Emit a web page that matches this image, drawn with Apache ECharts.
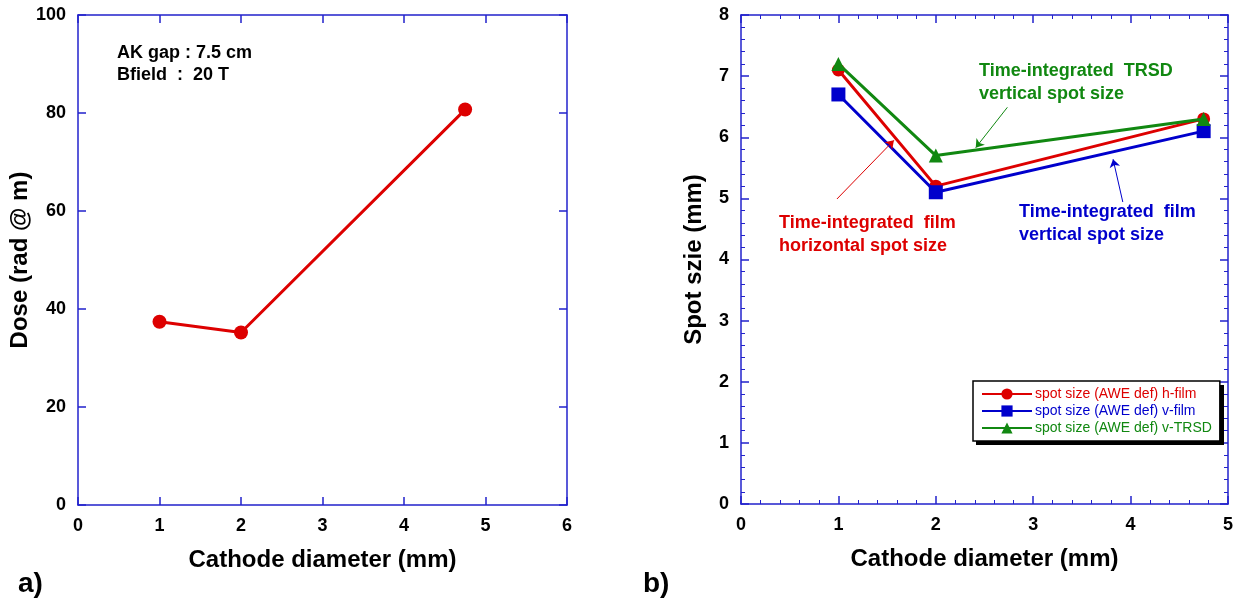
<!DOCTYPE html>
<html>
<head>
<meta charset="utf-8">
<script src="https://cdn.jsdelivr.net/npm/echarts@6/dist/echarts.min.js"></script>
<style>
html, body { margin: 0; padding: 0; background: #fff; }
#chart { width: 1252px; height: 600px; }
</style>
</head>
<body>
<div id="chart"></div>
<script>
// data
var doseX = [1, 2, 4.75];
var doseY = [37.4, 35.2, 80.7];

var spotX = [1, 2, 4.75];
var hFilm = [7.1, 5.2, 6.3];
var vFilm = [6.7, 5.1, 6.1];
var vTRSD = [7.2, 5.7, 6.3];

var seriesNames = ['spot size (AWE def) h-film', 'spot size (AWE def) v-film', 'spot size (AWE def) v-TRSD'];

var FONT = '"Liberation Sans", Arial, sans-serif';
var AXIS_BLUE = '#2222cc';
var RED = '#dd0000', BLUE = '#0000cc', GREEN = '#118811';

function pairs(xs, ys) {
    var out = [];
    for (var i = 0; i < xs.length; i++) {
        out.push([xs[i], ys[i]]);
    }
    return out;
}

function arrow(from, to) {
    return [{ coord: from }, { coord: to }];
}

// builds one axis; side axes (top/right) only carry ticks
function axis(grid, pos, min, max, interval, minor, name, gap) {
    var main = (pos === 'bottom' || pos === 'left');
    return {
        type: 'value',
        gridIndex: grid,
        position: pos,
        min: min,
        max: max,
        interval: interval,
        name: main ? name : '',
        nameLocation: 'middle',
        nameGap: gap,
        nameTextStyle: { fontFamily: FONT, fontWeight: 'bold', fontSize: 24, color: '#000' },
        axisLine: { show: true, onZero: false, lineStyle: { color: AXIS_BLUE, width: 1.5 } },
        axisTick: { show: true, inside: true, length: 8, lineStyle: { color: AXIS_BLUE, width: 1.5 } },
        minorTick: { show: minor, splitNumber: 5, length: 4, lineStyle: { color: AXIS_BLUE, width: 1 } },
        axisLabel: {
            show: main,
            margin: 12,
            fontFamily: FONT, fontWeight: 'bold', fontSize: 18, color: '#000'
        },
        splitLine: { show: false }
    };
}

var chart = echarts.init(document.getElementById('chart'));

var option = {
    backgroundColor: '#fff',
    animation: false,
    grid: [
        { left: 78, right: 685, top: 15, bottom: 95 },
        { left: 741, right: 24, top: 15, bottom: 96 }
    ],
    xAxis: [
        axis(0, 'bottom', 0, 6, 1, false, 'Cathode diameter (mm)', 43),
        axis(0, 'top', 0, 6, 1, false, '', 0),
        axis(1, 'bottom', 0, 5, 1, true, 'Cathode diameter (mm)', 43),
        axis(1, 'top', 0, 5, 1, true, '', 0)
    ],
    yAxis: [
        axis(0, 'left', 0, 100, 20, false, 'Dose (rad @ m)', 42),
        axis(0, 'right', 0, 100, 20, false, '', 0),
        axis(1, 'left', 0, 8, 1, true, 'Spot szie (mm)', 35),
        axis(1, 'right', 0, 8, 1, true, '', 0)
    ],
    legend: {
        orient: 'vertical',
        left: 973,
        top: 381,
        z: 10,
        padding: [6, 8, 6, 8],
        itemWidth: 50,
        itemHeight: 14,
        itemGap: 3,
        backgroundColor: '#fff',
        borderColor: '#000',
        borderWidth: 1.5,
        borderRadius: 0,
        textStyle: { fontFamily: FONT, fontSize: 14, padding: [0, 0, 0, -2] },
        data: [
            { name: seriesNames[0], textStyle: { color: RED } },
            { name: seriesNames[1], textStyle: { color: BLUE } },
            { name: seriesNames[2], textStyle: { color: GREEN } }
        ]
    },
    series: [
        {
            type: 'line',
            xAxisIndex: 0,
            yAxisIndex: 0,
            data: pairs(doseX, doseY),
            symbol: 'circle',
            symbolSize: 14,
            lineStyle: { color: RED, width: 3 },
            itemStyle: { color: RED }
        },
        {
            name: seriesNames[0],
            type: 'line',
            xAxisIndex: 2,
            yAxisIndex: 2,
            data: pairs(spotX, hFilm),
            symbol: 'circle',
            symbolSize: 13,
            lineStyle: { color: RED, width: 3 },
            itemStyle: { color: RED },
            z: 3,
            markLine: {
                silent: true,
                symbol: ['none', 'arrow'],
                symbolSize: 8,
                label: { show: false },
                lineStyle: { color: RED, width: 1, type: 'solid' },
                data: [arrow([0.985, 4.99], [1.57, 5.95])]
            }
        },
        {
            name: seriesNames[1],
            type: 'line',
            xAxisIndex: 2,
            yAxisIndex: 2,
            data: pairs(spotX, vFilm),
            symbol: 'rect',
            symbolSize: 14,
            lineStyle: { color: BLUE, width: 3 },
            itemStyle: { color: BLUE },
            z: 4,
            markLine: {
                silent: true,
                symbol: ['none', 'arrow'],
                symbolSize: 8,
                label: { show: false },
                lineStyle: { color: BLUE, width: 1, type: 'solid' },
                data: [arrow([3.92, 4.94], [3.82, 5.64])]
            }
        },
        {
            name: seriesNames[2],
            type: 'line',
            xAxisIndex: 2,
            yAxisIndex: 2,
            data: pairs(spotX, vTRSD),
            symbol: 'triangle',
            symbolSize: 14,
            lineStyle: { color: GREEN, width: 3 },
            itemStyle: { color: GREEN },
            z: 5,
            markLine: {
                silent: true,
                symbol: ['none', 'arrow'],
                symbolSize: 8,
                label: { show: false },
                lineStyle: { color: GREEN, width: 1, type: 'solid' },
                data: [arrow([2.735, 6.49], [2.41, 5.83])]
            }
        }
    ],
    graphic: [
        {
            // drop shadow behind the legend box
            type: 'rect', z: 1,
            shape: { x: 976, y: 385, width: 248, height: 60 },
            style: { fill: '#000' }
        },
        {
            type: 'text', left: 117, top: 42,
            style: { text: 'AK gap : 7.5 cm\nBfield  :  20 T', font: 'bold 18px ' + FONT, fill: '#000', lineHeight: 22 }
        },
        {
            type: 'text', left: 979, top: 60,
            style: { text: 'Time-integrated  TRSD\nvertical spot size', font: 'bold 18px ' + FONT, fill: GREEN, lineHeight: 23 }
        },
        {
            type: 'text', left: 779, top: 212,
            style: { text: 'Time-integrated  film\nhorizontal spot size', font: 'bold 18px ' + FONT, fill: RED, lineHeight: 23 }
        },
        {
            type: 'text', left: 1019, top: 201,
            style: { text: 'Time-integrated  film\nvertical spot size', font: 'bold 18px ' + FONT, fill: BLUE, lineHeight: 23 }
        },
        {
            type: 'text', left: 18, top: 570,
            style: { text: 'a)', font: 'bold 28px ' + FONT, fill: '#000' }
        },
        {
            type: 'text', left: 643, top: 570,
            style: { text: 'b)', font: 'bold 28px ' + FONT, fill: '#000' }
        }
    ]
};

chart.setOption(option);
</script>
</body>
</html>
